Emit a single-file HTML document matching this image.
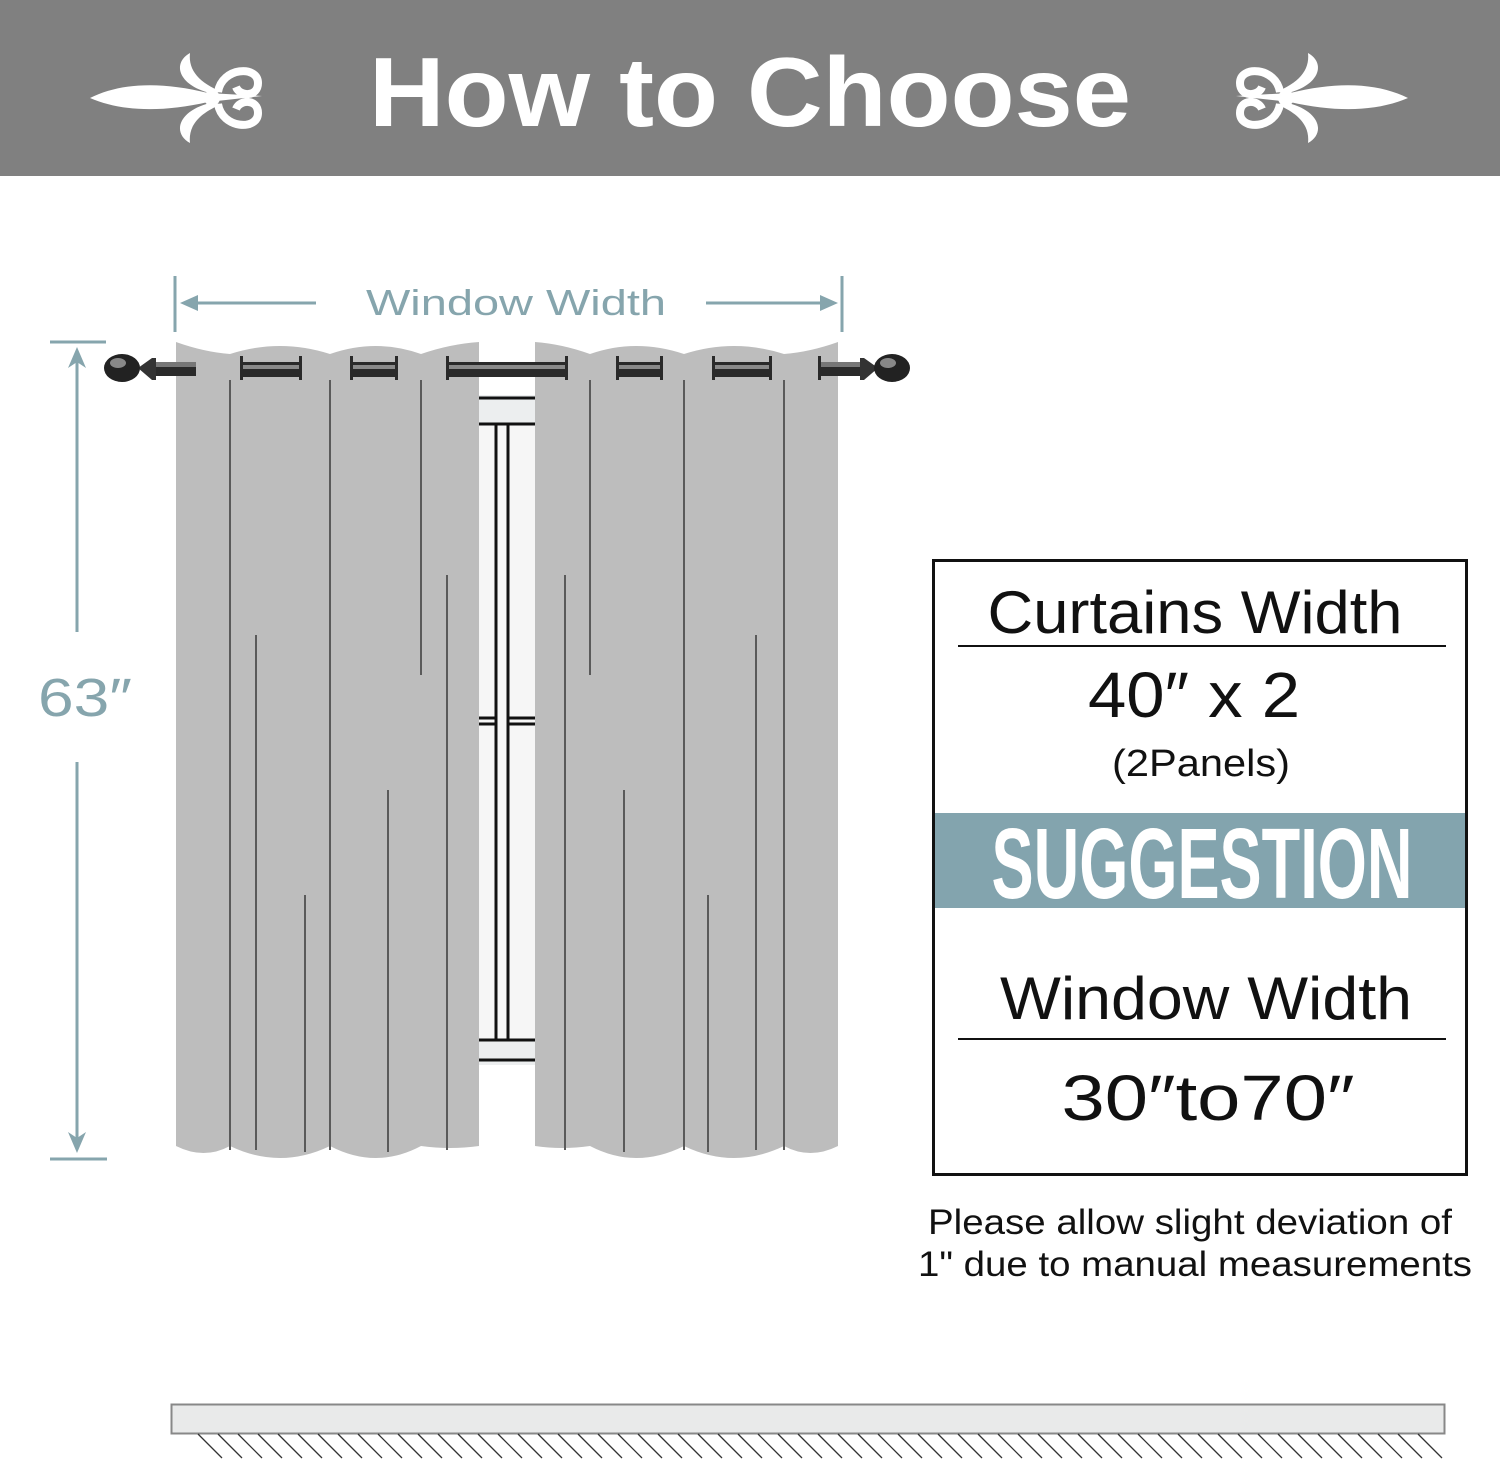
<!DOCTYPE html>
<html><head><meta charset="utf-8"><style>
html,body{margin:0;padding:0;background:#fff;}
svg{display:block;}
</style></head><body>
<svg width="1500" height="1461" viewBox="0 0 1500 1461" xmlns="http://www.w3.org/2000/svg" font-family="Liberation Sans, sans-serif">
<defs>
<g id="fleur">
<path d="M0,33 C30,18 70,16 118,28 L172,31 L118,37 C70,48 30,46 0,33 Z" fill="#fff"/>
<path d="M120,28 C88,20 82,-2 100,-12 C98,6 110,18 132,27 Z" fill="#fff"/>
<path d="M120,38 C88,46 82,68 100,78 C98,60 110,48 132,39 Z" fill="#fff"/>
<circle cx="122" cy="33" r="8" fill="#fff"/>
<path d="M128,27 C132,2 168,0 168,18 C168,32 150,32 146,22" fill="none" stroke="#fff" stroke-width="8"/>
<path d="M128,39 C132,64 168,66 168,48 C168,34 150,34 146,44" fill="none" stroke="#fff" stroke-width="8"/>
</g>
</defs>
<rect x="0" y="0" width="1500" height="176" fill="#808080"/>
<use href="#fleur" transform="translate(90,65)"/>
<use href="#fleur" transform="translate(1408,65) scale(-1,1)"/>
<text x="750" y="126" text-anchor="middle" font-size="98" font-weight="bold" fill="#fff" textLength="762" lengthAdjust="spacingAndGlyphs">How to Choose</text>

<g stroke="#86a5ad" stroke-width="3" fill="#86a5ad">
<line x1="175" y1="276" x2="175" y2="332"/>
<line x1="842" y1="276" x2="842" y2="332"/>
<line x1="186" y1="303" x2="316" y2="303"/>
<line x1="706" y1="303" x2="832" y2="303"/>
<path d="M180,303 L198,295 L198,311 Z" stroke="none"/>
<path d="M838,303 L820,295 L820,311 Z" stroke="none"/>
<line x1="50" y1="342" x2="106" y2="342"/>
<line x1="50" y1="1159" x2="107" y2="1159"/>
<line x1="77" y1="352" x2="77" y2="632"/>
<line x1="77" y1="762" x2="77" y2="1148"/>
<path d="M77,347 L68,368 L77,362 L86,368 Z" stroke="none"/>
<path d="M77,1153 L68,1132 L77,1138 L86,1132 Z" stroke="none"/>
</g>
<text x="516" y="315" text-anchor="middle" font-size="36" fill="#86a5ad" textLength="300" lengthAdjust="spacingAndGlyphs">Window Width</text>
<text x="85" y="716" text-anchor="middle" font-size="54" fill="#86a5ad" textLength="94" lengthAdjust="spacingAndGlyphs">63″</text>

<rect x="478" y="395" width="60" height="670" fill="#eceeef"/>
<rect x="478" y="424" width="60" height="616" fill="#f6f6f6"/>
<g stroke="#111" stroke-width="3">
<line x1="478" y1="398" x2="538" y2="398"/>
<line x1="478" y1="424" x2="538" y2="424"/>
<line x1="496" y1="424" x2="496" y2="1040"/>
<line x1="508" y1="424" x2="508" y2="1040"/>
<line x1="478" y1="718" x2="496" y2="718"/><line x1="508" y1="718" x2="538" y2="718"/>
<line x1="478" y1="724" x2="496" y2="724"/><line x1="508" y1="724" x2="538" y2="724"/>
<line x1="478" y1="1040" x2="538" y2="1040"/>
<line x1="478" y1="1060" x2="538" y2="1060"/>
</g>

<path d="M176,342 Q204,352 230,354 Q280,338 330,354 Q376,338 421,354 Q450,344 479,342 L479,1146 Q450,1150 421,1146 Q376,1170 330,1146 Q280,1170 230,1146 Q204,1160 176,1146 Z" fill="#bdbdbd"/>
<path d="M535,342 Q562,344 590,354 Q636,338 684,354 Q734,338 784,354 Q810,352 838,342 L838,1146 Q810,1160 784,1146 Q734,1170 684,1146 Q636,1170 590,1146 Q562,1150 535,1146 Z" fill="#bdbdbd"/>
<g stroke="#5a5a5a" stroke-width="2">
<line x1="230" y1="380" x2="230" y2="1150"/>
<line x1="256" y1="635" x2="256" y2="1150"/>
<line x1="305" y1="895" x2="305" y2="1152"/>
<line x1="330" y1="380" x2="330" y2="1150"/>
<line x1="388" y1="790" x2="388" y2="1152"/>
<line x1="421" y1="380" x2="421" y2="675"/>
<line x1="447" y1="575" x2="447" y2="1150"/>
<line x1="565" y1="575" x2="565" y2="1150"/>
<line x1="590" y1="380" x2="590" y2="675"/>
<line x1="624" y1="790" x2="624" y2="1152"/>
<line x1="684" y1="380" x2="684" y2="1150"/>
<line x1="708" y1="895" x2="708" y2="1152"/>
<line x1="756" y1="635" x2="756" y2="1150"/>
<line x1="784" y1="380" x2="784" y2="1150"/>
</g>

<g>
<rect x="150" y="362" width="46" height="14" fill="#2a2a2a"/>
<rect x="150" y="362" width="46" height="5" fill="#777"/>
<path d="M138,368 L152,358 L156,358 L156,380 L152,380 Z" fill="#333"/>
<ellipse cx="122" cy="368" rx="18" ry="14" fill="#222"/>
<ellipse cx="118" cy="363" rx="8" ry="5" fill="#888"/>
<rect x="820" y="362" width="46" height="14" fill="#2a2a2a"/>
<rect x="820" y="362" width="46" height="5" fill="#777"/>
<path d="M878,368 L864,358 L860,358 L860,380 L864,380 Z" fill="#333"/>
<ellipse cx="892" cy="368" rx="18" ry="14" fill="#222"/>
<ellipse cx="888" cy="363" rx="8" ry="5" fill="#888"/>
</g>
<g fill="#2a2a2a">
<rect x="240" y="362" width="62" height="15"/><rect x="240" y="356" width="3" height="24"/><rect x="299" y="356" width="3" height="24"/>
<rect x="350" y="362" width="48" height="15"/><rect x="350" y="356" width="3" height="24"/><rect x="395" y="356" width="3" height="24"/>
<rect x="446" y="362" width="122" height="15"/><rect x="446" y="356" width="3" height="24"/><rect x="565" y="356" width="3" height="24"/>
<rect x="616" y="362" width="47" height="15"/><rect x="616" y="356" width="3" height="24"/><rect x="660" y="356" width="3" height="24"/>
<rect x="712" y="362" width="60" height="15"/><rect x="712" y="356" width="3" height="24"/><rect x="769" y="356" width="3" height="24"/>
<rect x="818" y="356" width="3" height="24"/>
</g>
<g fill="#8a8a8a">
<rect x="243" y="365" width="56" height="4"/><rect x="353" y="365" width="42" height="4"/>
<rect x="449" y="365" width="116" height="4"/><rect x="619" y="365" width="41" height="4"/><rect x="715" y="365" width="54" height="4"/>
</g>

<rect x="933.5" y="560.5" width="533" height="614" fill="#fff" stroke="#111" stroke-width="3"/>
<rect x="935" y="813" width="530" height="95" fill="#83a4ae"/>
<line x1="958" y1="646" x2="1446" y2="646" stroke="#111" stroke-width="2"/>
<line x1="958" y1="1039" x2="1446" y2="1039" stroke="#111" stroke-width="2"/>
<text x="1195" y="633" text-anchor="middle" font-size="60" fill="#111" textLength="415" lengthAdjust="spacingAndGlyphs">Curtains Width</text>
<text x="1194" y="717" text-anchor="middle" font-size="64" fill="#111" textLength="212" lengthAdjust="spacingAndGlyphs">40″ x 2</text>
<text x="1201" y="776" text-anchor="middle" font-size="38" fill="#111" textLength="178" lengthAdjust="spacingAndGlyphs">(2Panels)</text>
<text x="1202" y="898" text-anchor="middle" font-size="100" font-weight="bold" fill="#fff" textLength="421" lengthAdjust="spacingAndGlyphs">SUGGESTION</text>
<text x="1206" y="1019" text-anchor="middle" font-size="60" fill="#111" textLength="412" lengthAdjust="spacingAndGlyphs">Window Width</text>
<text x="1208" y="1120" text-anchor="middle" font-size="64" fill="#111" textLength="293" lengthAdjust="spacingAndGlyphs">30″to70″</text>
<text x="1190" y="1234" text-anchor="middle" font-size="35" fill="#111" textLength="524" lengthAdjust="spacingAndGlyphs">Please allow slight deviation of</text>
<text x="1195" y="1276" text-anchor="middle" font-size="35" fill="#111" textLength="554" lengthAdjust="spacingAndGlyphs">1" due to manual measurements</text>

<rect x="171.5" y="1404.5" width="1273" height="29" fill="#e9eaea" stroke="#888" stroke-width="2"/>
<g stroke="#333" stroke-width="1.3">
<path d="M198,1434 l24,24 M218,1434 l24,24 M238,1434 l24,24 M258,1434 l24,24 M278,1434 l24,24 M298,1434 l24,24 M318,1434 l24,24 M338,1434 l24,24 M358,1434 l24,24 M378,1434 l24,24 M398,1434 l24,24 M418,1434 l24,24 M438,1434 l24,24 M458,1434 l24,24 M478,1434 l24,24 M498,1434 l24,24 M518,1434 l24,24 M538,1434 l24,24 M558,1434 l24,24 M578,1434 l24,24 M598,1434 l24,24 M618,1434 l24,24 M638,1434 l24,24 M658,1434 l24,24 M678,1434 l24,24 M698,1434 l24,24 M718,1434 l24,24 M738,1434 l24,24 M758,1434 l24,24 M778,1434 l24,24 M798,1434 l24,24 M818,1434 l24,24 M838,1434 l24,24 M858,1434 l24,24 M878,1434 l24,24 M898,1434 l24,24 M918,1434 l24,24 M938,1434 l24,24 M958,1434 l24,24 M978,1434 l24,24 M998,1434 l24,24 M1018,1434 l24,24 M1038,1434 l24,24 M1058,1434 l24,24 M1078,1434 l24,24 M1098,1434 l24,24 M1118,1434 l24,24 M1138,1434 l24,24 M1158,1434 l24,24 M1178,1434 l24,24 M1198,1434 l24,24 M1218,1434 l24,24 M1238,1434 l24,24 M1258,1434 l24,24 M1278,1434 l24,24 M1298,1434 l24,24 M1318,1434 l24,24 M1338,1434 l24,24 M1358,1434 l24,24 M1378,1434 l24,24 M1398,1434 l24,24 M1418,1434 l24,24"/>
</g>
</svg>
</body></html>
